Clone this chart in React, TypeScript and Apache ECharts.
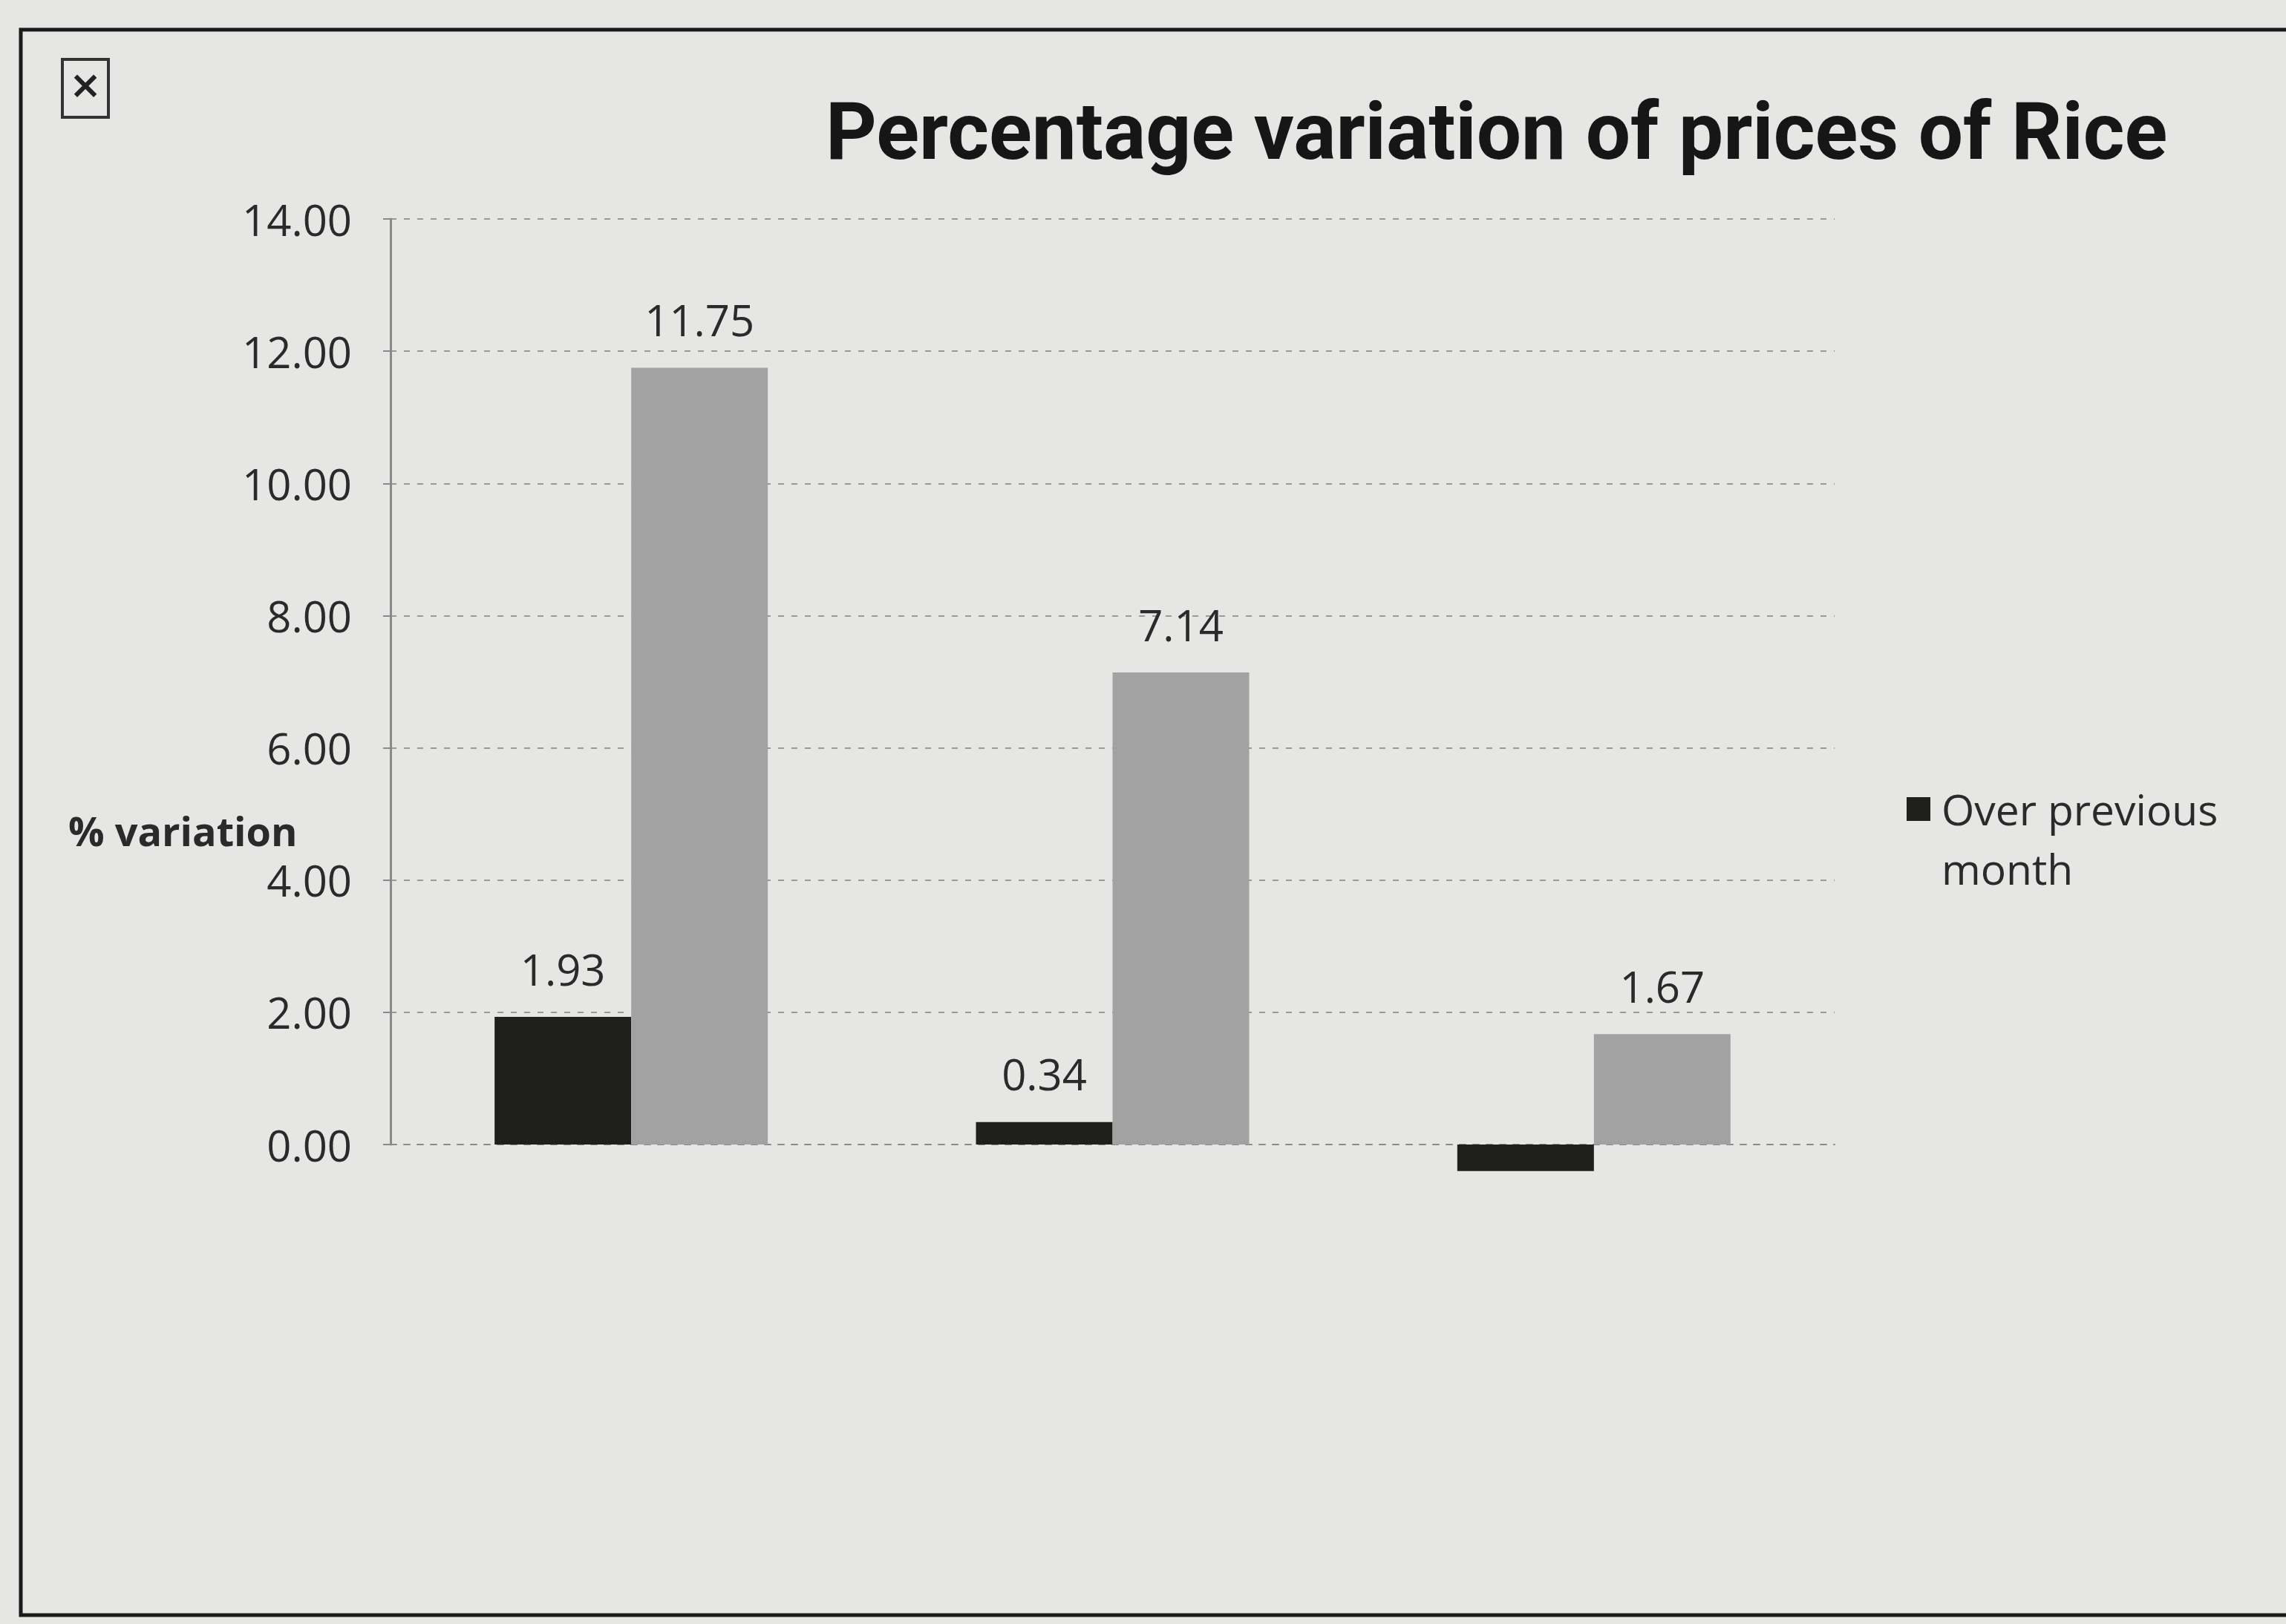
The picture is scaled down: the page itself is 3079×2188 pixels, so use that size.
import React, { useEffect, useRef } from "react";
import * as echarts from "echarts";

const categories = ["Group 1", "Group 2", "Group 3"];
const overPrevMonth = [1.93, 0.34, -0.4];
const overPrevYear = [11.75, 7.14, 1.67];
const yTicks = { min: 0, max: 14, interval: 2 };
const titleText = "Percentage variation of prices of Rice";
const yName = "% variation";
const legendName = "Over previous month";
const secondName = "Over previous year";

export default function App() {
  const ref = useRef<HTMLDivElement>(null);
  useEffect(() => {
    document.body.style.margin = "0";
    const chart = echarts.init(ref.current!, null, { renderer: "svg" });
    const labelFont = { fontFamily: "Open Sans", fontSize: 58, color: "#2a2a2a" };
    chart.setOption({
      animation: false,
      backgroundColor: "#e6e6e5",
      title: {
        text: titleText,
        left: 1112,
        top: 124,
        padding: 0,
        textStyle: {
          fontFamily: "Roboto",
          fontWeight: "bold",
          fontSize: 107,
          color: "#161616",
        },
      },
      legend: {
        data: [legendName],
        left: 2568,
        top: 1050,
        padding: 0,
        itemWidth: 32,
        itemHeight: 112,
        icon: "path://M0 0h32v32H0z M0 112h0.01v0.01H0z",
        formatter: () => "Over previous\nmonth",
        textStyle: {
          fontFamily: "Open Sans",
          fontSize: 57,
          color: "#2a2a2a",
          lineHeight: 80,
          padding: [0, 0, 0, 10],
        },
      },
      grid: { left: 526, right: 608, top: 295, bottom: 2188 - 1542 },
      xAxis: {
        type: "category",
        data: categories,
        axisLabel: { show: false },
        axisTick: { show: false },
        axisLine: { show: true, lineStyle: { color: "#8a8a8a", width: 2, type: [8, 10] } },
      },
      yAxis: {
        type: "value",
        min: yTicks.min,
        max: yTicks.max,
        interval: yTicks.interval,
        axisLine: { show: true, lineStyle: { color: "#8a8a8a", width: 3 } },
        axisTick: { show: true, length: 10, inside: false, lineStyle: { color: "#8a8a8a", width: 2 } },
        axisLabel: {
          ...labelFont,
          margin: 52,
          formatter: (v: number) => v.toFixed(2),
        },
        splitLine: { show: true, lineStyle: { color: "#9a9a9a", width: 2, type: [8, 10] } },
      },
      series: [
        {
          name: legendName,
          type: "bar",
          data: overPrevMonth.map((v) => (v < 0 ? { value: v, label: { show: false } } : v)),
          barWidth: 184,
          barGap: "0%",
          clip: false,
          itemStyle: { color: "#1f1f1b" },
          label: { show: true, position: "top", distance: 36, ...labelFont, formatter: (p: any) => Number(p.value).toFixed(2) },
        },
        {
          name: secondName,
          type: "bar",
          data: overPrevYear,
          barWidth: 184,
          barGap: "0%",
          clip: false,
          itemStyle: { color: "#a2a2a2" },
          label: { show: true, position: "top", distance: 36, ...labelFont, formatter: (p: any) => Number(p.value).toFixed(2) },
        },
      ],
      graphic: [
        {
          type: "rect",
          shape: { x: 28, y: 40, width: 3200, height: 2136 },
          style: { fill: "none", stroke: "#1a1a1a", lineWidth: 5 },
          silent: true,
        },
        {
          type: "rect",
          shape: { x: 84, y: 80, width: 62, height: 78 },
          style: { fill: "none", stroke: "#333", lineWidth: 4 },
        },
        {
          type: "text",
          x: 115,
          y: 114,
          style: { text: "×", fontFamily: "DejaVu Sans", fontWeight: "bold", fontSize: 52, fill: "#222", align: "center", verticalAlign: "middle" },
        },
        {
          type: "text",
          x: 92,
          y: 1119,
          style: {
            text: yName,
            fontFamily: "Open Sans",
            fontWeight: "bold",
            fontSize: 54,
            fill: "#2a2a2a",
            verticalAlign: "middle",
          },
        },
      ],
    });
    return () => chart.dispose();
  }, []);
  return <div ref={ref} style={{ position: "fixed", left: 0, top: 0, width: 3079, height: 2188 }} />;
}
